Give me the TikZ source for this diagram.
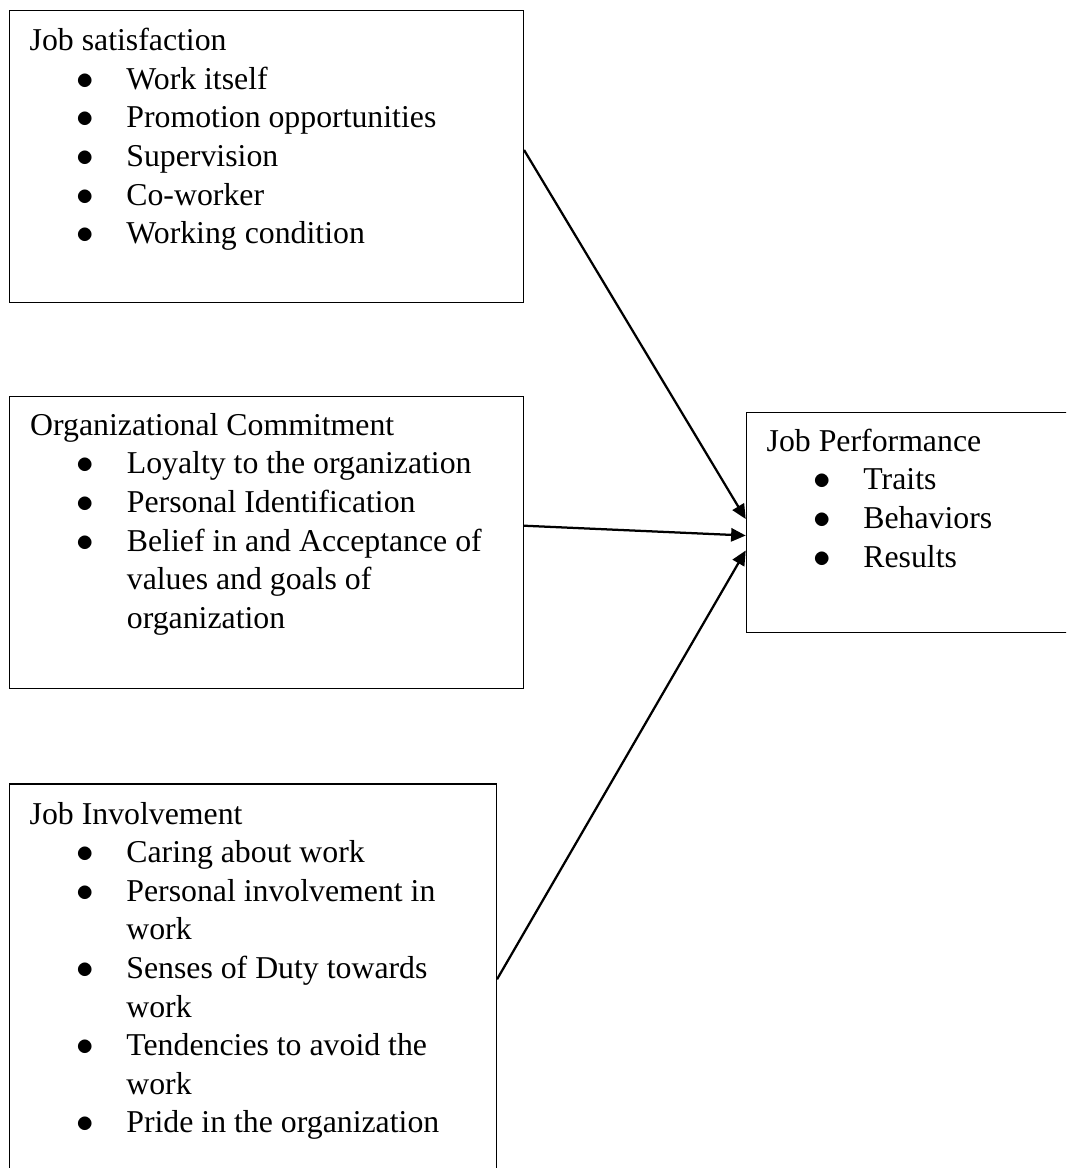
\documentclass[tikz,border=0pt]{standalone}
\usepackage{fontspec}
\setmainfont{Liberation Serif}
\usetikzlibrary{arrows.meta}

\def\pxu{0.3774pt}
\newcommand{\bitem}{\makebox[36.5pt][l]{\hspace{17.6pt}\scalebox{1.1}{$\bullet$}}}
\newcommand{\cont}{\hspace*{36.5pt}}

\begin{document}
\begin{tikzpicture}[x=\pxu, y=-\pxu, line width=0.5pt,
    link/.style={line width=0.85pt, -{Triangle[length=5.5pt,width=5pt]}}]

    \tikzstyle{box}=[draw, rectangle, anchor=north west, inner sep=0pt]
    \tikzstyle{txt}=[anchor=north west, inner sep=0pt, align=left,
                     font=\fontsize{12}{14.57}\selectfont]

    \useasboundingbox (0,0) rectangle (1066,1168);
    \clip (0,0) rectangle (1066,1168);

    % the four boxes
    \node[box, minimum width=513.7*\pxu, minimum height=292*\pxu] (sat) at (9,10) {};
    \node[box, minimum width=513.7*\pxu, minimum height=291.7*\pxu] (com) at (9,396) {};
    \node[box, minimum width=486.7*\pxu, minimum height=420*\pxu] (inv) at (9,783.3) {};
    \node[box, minimum width=360*\pxu, minimum height=220.3*\pxu] (perf) at (745.7,411.7) {};

    % their texts
    \node[txt] (sattxt) at ([shift={(20,17.6)}]sat.north west) {Job satisfaction\\
        \bitem Work itself\\
        \bitem Promotion opportunities\\
        \bitem Supervision\\
        \bitem Co-worker\\
        \bitem Working condition};

    \node[txt] (comtxt) at ([shift={(20.5,16.5)}]com.north west) {Organizational Commitment\\
        \bitem Loyalty to the organization\\
        \bitem Personal Identification\\
        \bitem Belief in and Acceptance of\\
        \cont values and goals of\\
        \cont organization};

    \node[txt] (invtxt) at ([shift={(20,18)}]inv.north west) {Job Involvement\\
        \bitem Caring about work\\
        \bitem Personal involvement in\\
        \cont work\\
        \bitem Senses of Duty towards\\
        \cont work\\
        \bitem Tendencies to avoid the\\
        \cont work\\
        \bitem Pride in the organization};

    \node[txt] (perftxt) at ([shift={(20.3,16.6)}]perf.north west) {Job Performance\\
        \bitem Traits\\
        \bitem Behaviors\\
        \bitem Results};

    % arrows
    \draw[link] ([yshift=6.7*\pxu]sat.east) -- ([yshift=3.5*\pxu]perf.west);
    \draw[link] ([yshift=16.8*\pxu]com.east) -- ([yshift=-13*\pxu]perf.west);
    \draw[link] ([yshift=-196*\pxu]inv.north east) -- ([yshift=-28*\pxu]perf.west);
\end{tikzpicture}
\end{document}
